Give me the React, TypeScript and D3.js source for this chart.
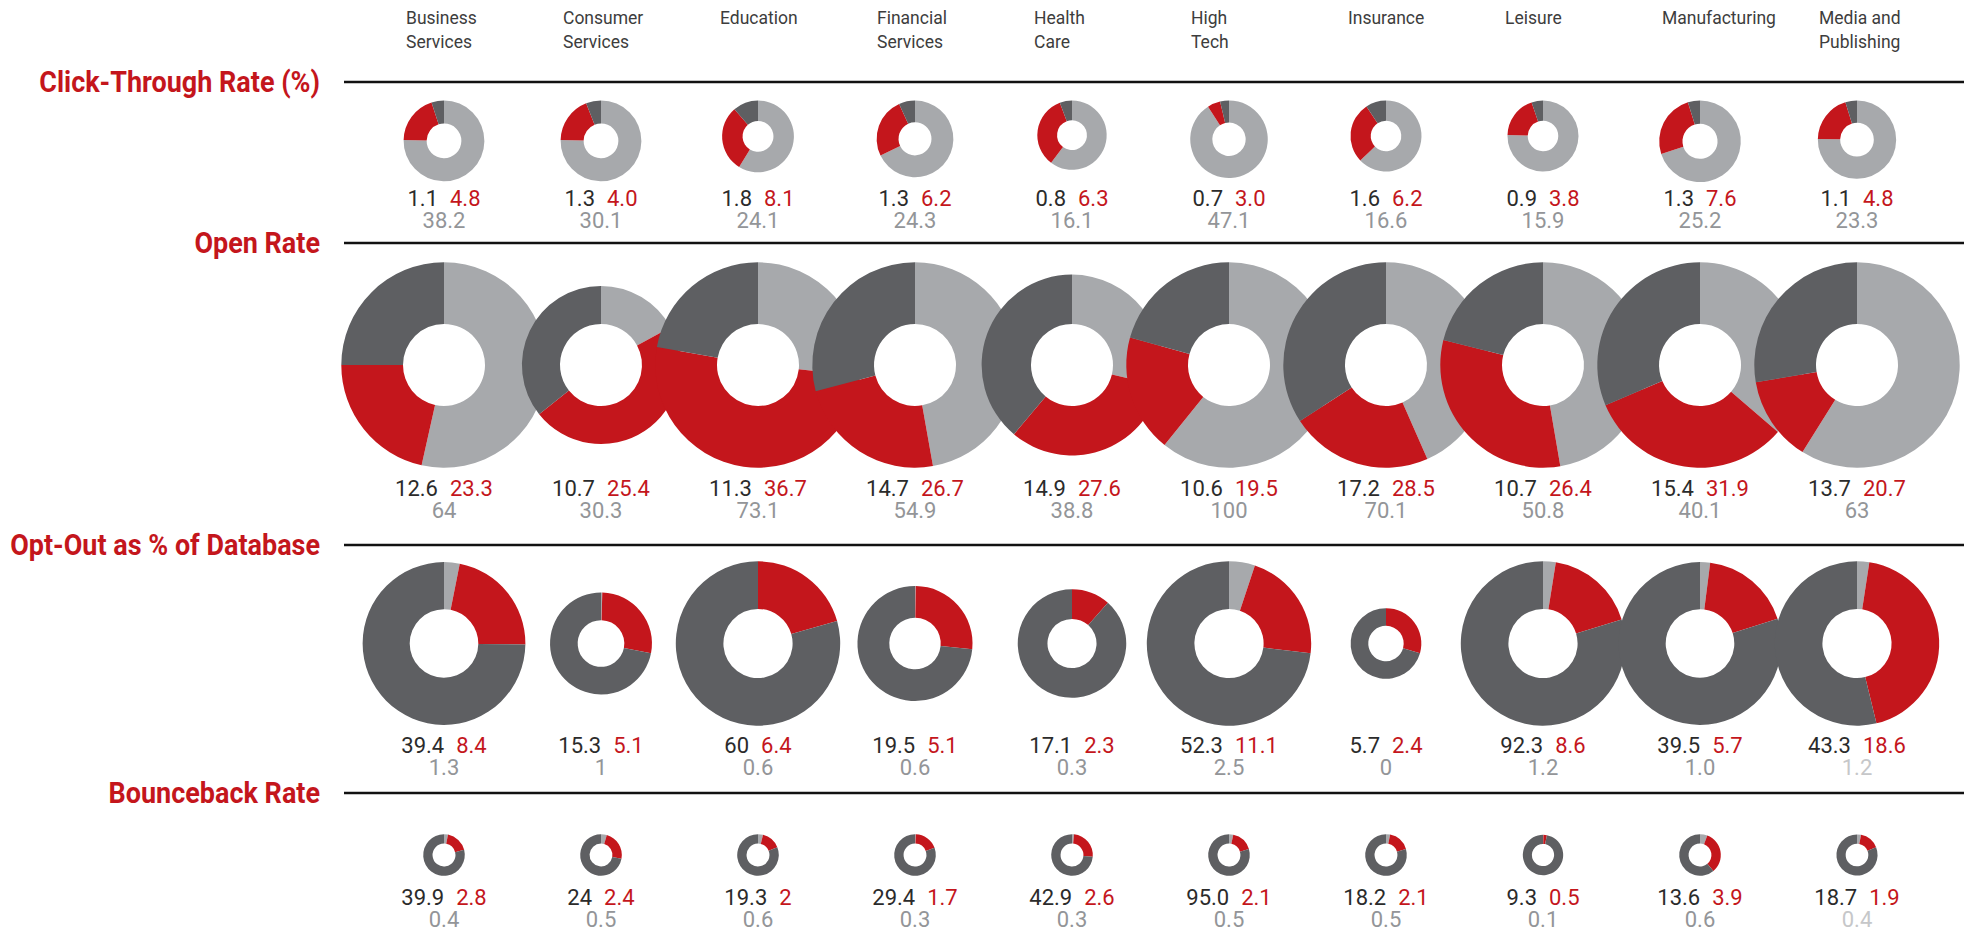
import React from "react";
import * as d3 from "d3";

// industries across the top, with the line breaks used in the header
const industries = [
  "Business Services", "Consumer Services", "Education", "Financial Services", "Health Care",
  "High Tech", "Insurance", "Leisure", "Manufacturing", "Media and Publishing",
];
const industryLines = [
  ["Business", "Services"], ["Consumer", "Services"], ["Education"], ["Financial", "Services"],
  ["Health", "Care"], ["High", "Tech"], ["Insurance"], ["Leisure"], ["Manufacturing"],
  ["Media and", "Publishing"],
];

const metricTitles = ["Click-Through Rate (%)", "Open Rate", "Opt-Out as % of Database", "Bounceback Rate"];

// printed figures (kept as strings so "4.0" / "95.0" stay as printed)
const ctrDark = ["1.1", "1.3", "1.8", "1.3", "0.8", "0.7", "1.6", "0.9", "1.3", "1.1"];
const ctrRed = ["4.8", "4.0", "8.1", "6.2", "6.3", "3.0", "6.2", "3.8", "7.6", "4.8"];
const ctrGray = ["38.2", "30.1", "24.1", "24.3", "16.1", "47.1", "16.6", "15.9", "25.2", "23.3"];

const openDark = ["12.6", "10.7", "11.3", "14.7", "14.9", "10.6", "17.2", "10.7", "15.4", "13.7"];
const openRed = ["23.3", "25.4", "36.7", "26.7", "27.6", "19.5", "28.5", "26.4", "31.9", "20.7"];
const openGray = ["64", "30.3", "73.1", "54.9", "38.8", "100", "70.1", "50.8", "40.1", "63"];

const optDark = ["39.4", "15.3", "60", "19.5", "17.1", "52.3", "5.7", "92.3", "39.5", "43.3"];
const optRed = ["8.4", "5.1", "6.4", "5.1", "2.3", "11.1", "2.4", "8.6", "5.7", "18.6"];
const optGray = ["1.3", "1", "0.6", "0.6", "0.3", "2.5", "0", "1.2", "1.0", "1.2"];

const bounceDark = ["39.9", "24", "19.3", "29.4", "42.9", "95.0", "18.2", "9.3", "13.6", "18.7"];
const bounceRed = ["2.8", "2.4", "2", "1.7", "2.6", "2.1", "2.1", "0.5", "3.9", "1.9"];
const bounceGray = ["0.4", "0.5", "0.6", "0.3", "0.3", "0.5", "0.5", "0.1", "0.6", "0.4"];

// slice shares as drawn, clockwise from 12 o'clock: [light, red, dark] (%)
const ctrShares = [
  [75.4, 19.6, 5.0], [75.4, 18.6, 6.0], [58.8, 29.8, 11.4], [67.8, 25.4, 6.8], [60.3, 34.0, 5.7],
  [90.9, 5.4, 3.7], [62.9, 27.8, 9.3], [75.4, 19.4, 5.2], [70.0, 25.2, 4.8], [75.3, 19.9, 4.8],
];
const openShares = [
  [53.5, 21.5, 25.0], [17.1, 47.2, 35.7], [26.7, 51.1, 22.2], [47.2, 23.7, 29.1], [28.7, 32.4, 38.9],
  [60.8, 18.5, 20.7], [43.4, 22.4, 34.2], [47.3, 31.6, 21.1], [36.3, 32.3, 31.4], [58.9, 13.4, 27.7],
];
const optShares = [
  [3.1, 22.1, 74.8], [0.4, 27.7, 71.9], [0, 20.6, 79.4], [0.2, 26.4, 73.4], [0, 11.5, 88.5],
  [5.1, 21.8, 73.1], [0, 29.4, 70.6], [2.5, 17.8, 79.7], [2.0, 18.1, 79.9], [2.4, 43.8, 53.8],
];
const bounceShares = [
  [3.1, 17.9, 79.0], [4.5, 23.4, 72.1], [3.9, 15.0, 81.1], [0.6, 18.8, 80.6], [1.6, 24.8, 73.6],
  [3.3, 17.0, 79.7], [3.2, 17.2, 79.6], [0.3, 2.8, 96.9], [5.7, 33.2, 61.1], [3.2, 15.7, 81.1],
];

// relative donut size within each band (100 = largest)
const ctrSizes = [99, 99, 88, 94, 85, 95, 87, 87, 100, 96];
const openSizes = [100, 77, 100, 100, 88, 100, 100, 100, 100, 100];
const optSizes = [99, 62, 100, 70, 66, 100, 43, 100, 99, 100];
const bounceSizes = [100, 100, 100, 100, 100, 100, 100, 97, 100, 99];

const W = 1971;
const H = 930;
const RED = "#c4161c";
const DARK = "#5e5f62";
const LIGHT = "#a7a9ac";
const sliceColors = [LIGHT, RED, DARK];

const rows = [
  { dark: ctrDark, red: ctrRed, gray: ctrGray, shares: ctrShares, sizes: ctrSizes },
  { dark: openDark, red: openRed, gray: openGray, shares: openShares, sizes: openSizes },
  { dark: optDark, red: optRed, gray: optGray, shares: optShares, sizes: optSizes },
  { dark: bounceDark, red: bounceRed, gray: bounceGray, shares: bounceShares, sizes: bounceSizes },
];

// where each band sits on the page
const bands = [
  { lineY: 82, maxR: 40.8, top: 100.5, cy: null, inner: (r: number) => r * 0.43, textY: 206 },
  { lineY: 243, maxR: 102.7, top: null, cy: 365, inner: () => 41, textY: 496 },
  { lineY: 545, maxR: 82.2, top: null, cy: 643.5, inner: (r: number) => 5 + 0.36 * r, textY: 753 },
  { lineY: 793, maxR: 20.8, top: null, cy: 855, inner: (r: number) => r * 0.55, textY: 905 },
];

const x = d3.scalePoint<string>().domain(industries).range([444, 1857]);
const pie = d3.pie<number>().sort(null).value((d) => d);
const font = "Roboto, 'Liberation Sans', Arial, sans-serif";

export default function App() {
  return (
    <svg width={W} height={H} style={{ position: "absolute", left: 0, top: 0, background: "#fff" }} fontFamily={font}>
      {industries.map((name, i) => (
        <text key={name} x={(x(name) as number) - 38} y={24} fontSize={17.5} fill="#3d3d3d">
          {industryLines[i].map((l, j) => (
            <tspan key={j} x={(x(name) as number) - 38} y={24 + j * 24}>{l}</tspan>
          ))}
        </text>
      ))}

      {rows.map((row, ri) => {
        const b = bands[ri];
        const r = d3.scaleLinear().domain([0, 100]).range([0, b.maxR]);
        return (
          <g key={ri}>
            <text transform={`translate(320,${b.lineY + 9.5}) scale(0.93,1)`} textAnchor="end"
              fontSize={29} fontWeight={700} fill={RED}>{metricTitles[ri]}</text>
            <line x1={344} x2={1964} y1={b.lineY} y2={b.lineY} stroke="#111" strokeWidth={2.6} />
            {industries.map((name, i) => {
              const outer = r(row.sizes[i]);
              const cy = b.top != null ? b.top + outer : (b.cy as number);
              const arc = d3.arc<d3.PieArcDatum<number>>().innerRadius(b.inner(outer)).outerRadius(outer);
              return (
                <g key={name} transform={`translate(${x(name)},${cy})`}>
                  {pie(row.shares[i]).map((s, k) => (
                    <path key={k} d={arc(s) || ""} fill={sliceColors[k]} />
                  ))}
                </g>
              );
            })}
            {industries.map((name, i) => {
              const cx = x(name) as number;
              const faded = ri >= 2 && i === industries.length - 1;
              return (
                <g key={name + "t"} fontSize={22}>
                  <text x={cx} y={b.textY} textAnchor="middle">
                    <tspan fill="#2b2b2b">{row.dark[i]}</tspan>
                    <tspan dx={12} fill={RED}>{row.red[i]}</tspan>
                  </text>
                  <text x={cx} y={b.textY + 21.5} textAnchor="middle" fill={faded ? "#c6c7c9" : "#939598"}>
                    {row.gray[i]}
                  </text>
                </g>
              );
            })}
          </g>
        );
      })}
    </svg>
  );
}
